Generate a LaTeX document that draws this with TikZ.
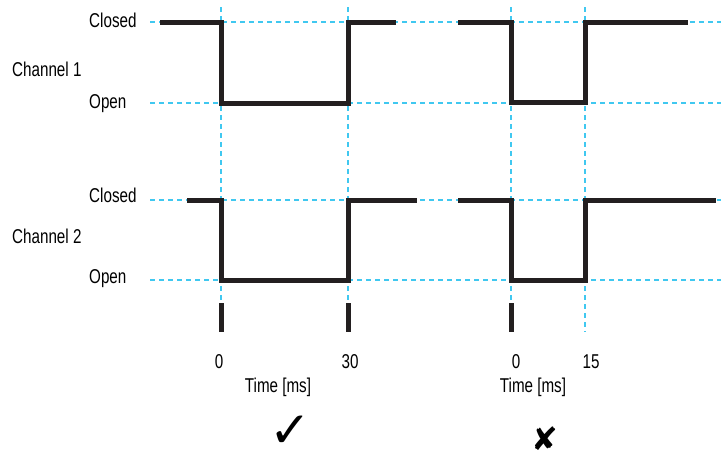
\documentclass[tikz,border=0pt]{standalone}
\usepackage{fontspec}
\setmainfont[FakeStretch=0.76]{Liberation Sans}
\newfontfamily\symfont{DejaVu Sans}
\usetikzlibrary{positioning}
\definecolor{guideblue}{RGB}{64,200,240}
\definecolor{wavegray}{RGB}{35,31,32}

\begin{document}
\begin{tikzpicture}[
		x=1pt, y=-1pt,
		wave/.style={draw=wavegray, line width=5pt, line join=miter},
		guide/.style={draw=guideblue, line width=1.1pt, dash pattern=on 4.5pt off 4.5pt},
		tickbar/.style={draw=wavegray, line width=5pt},
		lbl/.style={font=\fontsize{20}{22}\selectfont, inner sep=0pt},
		verdict/.style={inner sep=0pt, anchor=base, text depth=0pt}
		]
		\useasboundingbox (0,0) rectangle (721,458);
		
		% ==========================================
		% GUIDE LINES
		% ==========================================
		\foreach \y in {22,103,200,280}
			\draw[guide] (150,\y) -- (721,\y);
		\foreach \x in {221,348,511}
			\draw[guide] (\x,7) -- (\x,300);
		\draw[guide] (585,7) -- (585,332);
		
		% ==========================================
		% CHANNEL 1
		% ==========================================
		\node[lbl, anchor=base west] (ch1) at (12,76) {Channel 1};
		\node[lbl, anchor=base west] (ch1_closed) at (89,27) {Closed};
		\node[lbl, anchor=base west] (ch1_open) at (89,108) {Open};
		
		\draw[wave] (160,22) -- (221,22) -- (221,103) -- (348,103) -- (348,22) -- (396,22);
		\draw[wave] (458,22) -- (511,22) -- (511,102) -- (585,102) -- (585,22) -- (688,22);
		
		% ==========================================
		% CHANNEL 2
		% ==========================================
		\node[lbl, anchor=base west] (ch2) at (12,243) {Channel 2};
		\node[lbl, anchor=base west] (ch2_closed) at (89,202) {Closed};
		\node[lbl, anchor=base west] (ch2_open) at (89,283) {Open};
		
		\draw[wave] (187,200) -- (221,200) -- (221,280) -- (348,280) -- (348,200) -- (417,200);
		\draw[wave] (458,200) -- (511,200) -- (511,280) -- (585,280) -- (585,200) -- (716,200);
		
		% ==========================================
		% TIME AXIS
		% ==========================================
		\draw[tickbar] (221,303) -- (221,332);
		\draw[tickbar] (348,303) -- (348,332);
		\draw[tickbar] (511,303) -- (511,332);
		
		\node[lbl, anchor=base] (t_left0) at (219,368) {0};
		\node[lbl, anchor=base] (t_left30) at (350,368) {30};
		\node[lbl, anchor=base] (t_right0) at (516,368) {0};
		\node[lbl, anchor=base] (t_right15) at (591,368) {15};
		
		\node[lbl, anchor=base] (time_left) at (278,392) {Time [ms]};
		\node[lbl, anchor=base] (time_right) at (533,392) {Time [ms]};
		
		% ==========================================
		% VERDICT
		% ==========================================
		\node[verdict, font=\symfont\fontsize{50}{52}\selectfont] (ok) at (290,447) {✓};
		\node[verdict, font=\symfont\fontsize{32}{34}\selectfont] (bad) at (545,450) {✘};
		
	\end{tikzpicture}
\end{document}
